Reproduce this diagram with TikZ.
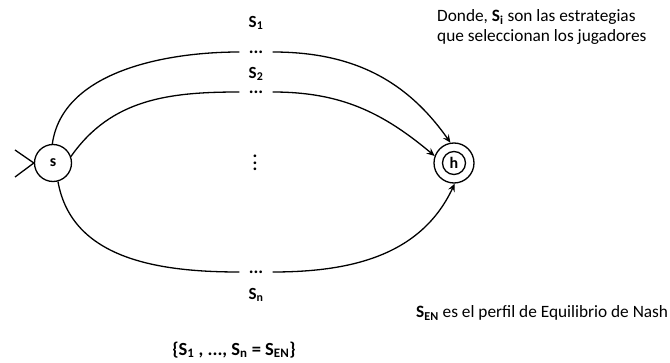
\documentclass[tikz,border=0pt]{standalone}
\usepackage{fontspec}
\setmainfont{Carlito}
\usetikzlibrary{positioning,arrows.meta}

\begin{document}
\begin{tikzpicture}[x=1pt, y=1pt,
    state/.style={circle, draw, line width=1.3pt, minimum size=37pt, inner sep=0pt, font=\fontsize{16}{18}\selectfont\bfseries},
    gap/.style={inner sep=0pt, minimum width=33pt, font=\fontsize{18}{20}\selectfont\bfseries},
    lbl/.style={font=\fontsize{17}{19}\selectfont\bfseries},
    note/.style={inner sep=0pt, align=left, font=\fontsize{17.3}{20}\selectfont},
    edge/.style={line width=1.3pt, -{Stealth[length=8pt, width=7pt, inset=3pt]}}]
    \useasboundingbox (0,0) rectangle (670,362);

    % Define node positions (left to right)
    \node[state] (s) at (53, 199) {s};
    \node[state, minimum size=40pt] (h) at (454, 199) {};
    \node[state, minimum size=23pt] (hin) at (h) {h};
    \coordinate (inA) at (15, 212);
    \coordinate (inB) at (15, 185);

    % Strategy paths
    \node[gap] (d1) at (256, 310) {...};
    \node[gap] (d2) at (256, 270) {...};
    \node[gap] (dn) at (256, 90) {...};
    \node[gap] (vd) at (255, 199) {\vbox{\baselineskip=6.5pt\lineskiplimit=-10pt\hbox{.}\hbox{.}\hbox{.}}};
    \node[lbl] (S1) at (256, 339) {S\textsubscript{1}};
    \node[lbl] (S2) at (256, 288) {S\textsubscript{2}};
    \node[lbl] (Sn) at (256, 67) {S\textsubscript{n}};

    % Notes
    \node[note, anchor=west] (donde) at (437, 335) {Donde, \textbf{S\textsubscript{i}} son las estrategias\\que seleccionan los jugadores};
    \node[note, anchor=west] (perfil) at (416, 49) {\textbf{S\textsubscript{EN}} es el perfil de Equilibrio de Nash};
    \node[lbl, font=\fontsize{18.5}{20}\selectfont\bfseries] (conj) at (234, 12) {\{S\textsubscript{1} , ..., S\textsubscript{n} = S\textsubscript{EN}\}};

    % Draw edges
    \draw[line width=1.3pt] (inA) -- (s.west) -- (inB);
    \draw[line width=1.3pt] (s.92) to[out=82, in=180, looseness=0.9] (d1);
    \draw[edge] (d1) to[out=0, in=125] (h.100);
    \draw[line width=1.3pt] (s.20) to[out=55, in=180] (d2);
    \draw[edge] (d2) to[out=0, in=140] (h.160);
    \draw[line width=1.3pt] (s.-75) to[out=-80, in=180] (dn);
    \draw[edge] (dn) to[out=0, in=-115] (h.-88);
\end{tikzpicture}
\end{document}
